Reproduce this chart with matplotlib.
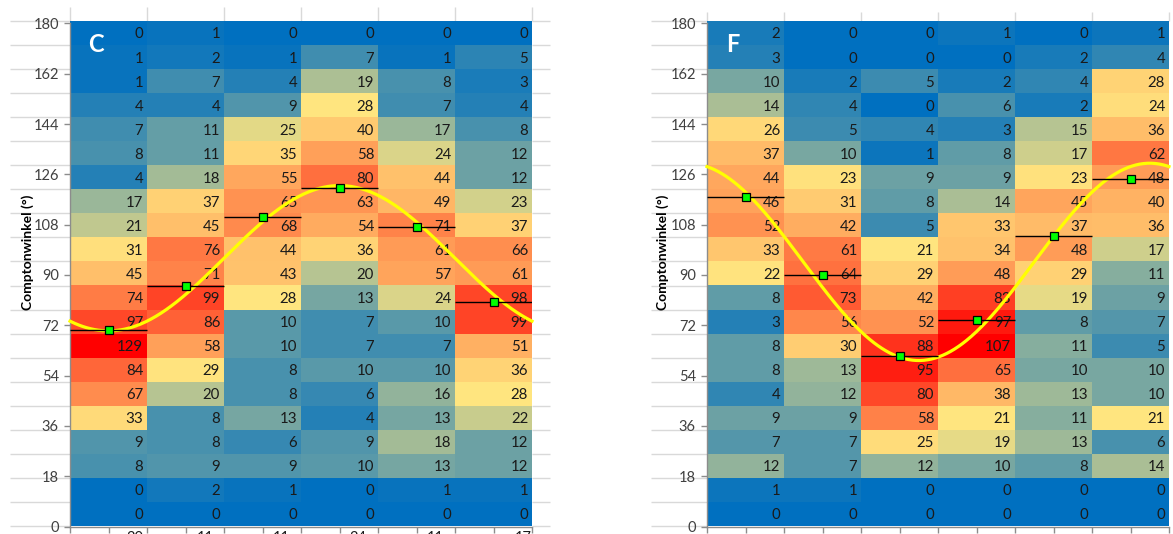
import numpy as np
import matplotlib
matplotlib.use("Agg")
import matplotlib.pyplot as plt
from matplotlib.colors import LinearSegmentedColormap, TwoSlopeNorm

plt.rcParams['font.family'] = ['Lato', 'DejaVu Sans']

# --- data -------------------------------------------------------------
# azimuth bins (column centres, degrees) and half bin width
azimuth = [30, 90, 150, 210, 270, 330]
bin_half = 30
theta_ticks = list(range(0, 181, 18))

# counts per cell, rows from top (180 deg) to bottom (0 deg)
counts_C = [
    [0, 1, 0, 0, 0, 0],
    [1, 2, 1, 7, 1, 5],
    [1, 7, 4, 19, 8, 3],
    [4, 4, 9, 28, 7, 4],
    [7, 11, 25, 40, 17, 8],
    [8, 11, 35, 58, 24, 12],
    [4, 18, 55, 80, 44, 12],
    [17, 37, 65, 63, 49, 23],
    [21, 45, 68, 54, 71, 37],
    [31, 76, 44, 36, 61, 66],
    [45, 71, 43, 20, 57, 61],
    [74, 99, 28, 13, 24, 98],
    [97, 86, 10, 7, 10, 99],
    [129, 58, 10, 7, 7, 51],
    [84, 29, 8, 10, 10, 36],
    [67, 20, 8, 6, 16, 28],
    [33, 8, 13, 4, 13, 22],
    [9, 8, 6, 9, 18, 12],
    [8, 9, 9, 10, 13, 12],
    [0, 2, 1, 0, 1, 1],
    [0, 0, 0, 0, 0, 0],
]
counts_F = [
    [2, 0, 0, 1, 0, 1],
    [3, 0, 0, 0, 2, 4],
    [10, 2, 5, 2, 4, 28],
    [14, 4, 0, 6, 2, 24],
    [26, 5, 4, 3, 15, 36],
    [37, 10, 1, 8, 17, 62],
    [44, 23, 9, 9, 23, 48],
    [46, 31, 8, 14, 45, 40],
    [52, 42, 5, 33, 37, 36],
    [33, 61, 21, 34, 48, 17],
    [22, 64, 29, 48, 29, 11],
    [8, 73, 42, 83, 19, 9],
    [3, 56, 52, 97, 8, 7],
    [8, 30, 88, 107, 11, 5],
    [8, 13, 95, 65, 10, 10],
    [4, 12, 80, 38, 13, 10],
    [9, 9, 58, 21, 11, 21],
    [7, 7, 25, 19, 13, 6],
    [12, 7, 12, 10, 8, 14],
    [1, 1, 0, 0, 0, 0],
    [0, 0, 0, 0, 0, 0],
]

# mean Compton angle per azimuth bin
peak_C = [70.3, 86.1, 110.7, 121.1, 107.3, 80.4]
peak_F = [118.0, 89.9, 60.9, 73.8, 103.9, 124.4]

# cosine fit: offset, amplitude, azimuth of maximum
fit_C = (96.0, 26.0, 210.0)
fit_F = (94.7, 35.3, 345.0)

# colour scale midpoints (yellow)
mid_C = 28
mid_F = 21

# values in the sheet row under panel C (only their tops are visible)
below_C = ["30", "11", "11", "34", "11", "17"]

# --- layout -----------------------------------------------------------
W, H = 1173, 534
fig = plt.figure(figsize=(W / 100, H / 100), dpi=100)
fig.patch.set_facecolor('white')


def px_axes(x0, y0, x1, y1, **kw):
    return fig.add_axes([x0 / W, 1 - y1 / H, (x1 - x0) / W, (y1 - y0) / H], **kw)


cmap = LinearSegmentedColormap.from_list(
    'sheet', ['#0070C0', '#FFE680', '#FF0000'])

grid_col = '#D9D9D9'
row_top, row_bot = 21.0, 526.0
row_h = (row_bot - row_top) / 21

# background sheet grid
bg = px_axes(0, 0, W, H)
bg.set_xlim(0, W)
bg.set_ylim(H, 0)
bg.axis('off')


def sheet_grid(left, grid_spans, top_y):
    ys = row_top + row_h * np.arange(22)
    for a, b in grid_spans:
        bg.hlines(ys, a, b, color=grid_col, lw=1)
    xs = left + 77 * np.arange(7)
    bg.vlines(xs, top_y, row_top, color=grid_col, lw=1)


sheet_grid(70, [(10, 70), (532, 550)], 7)
sheet_grid(707, [(651, 707)], 12)


def panel(left, counts, mid, peaks, fit, letter, ylab_x):
    right = left + 6 * 77
    arr = np.array(counts)
    norm = TwoSlopeNorm(vmin=arr.min(), vcenter=mid, vmax=arr.max())

    hm = px_axes(left, row_top, right, row_bot)
    hm.imshow(arr, cmap=cmap, norm=norm, aspect='auto',
              interpolation='nearest', extent=(0, 6, 21, 0))
    hm.axis('off')
    for i, row in enumerate(counts):
        for j, v in enumerate(row):
            hm.text(j + 1 - 0.05, i + 0.56, str(v), ha='right', va='center',
                    fontsize=10.8, color='#1A1A1A')

    ov = px_axes(left, 23.5, right, 526.5)
    ov.patch.set_visible(False)
    ov.set_xlim(0, 360)
    ov.set_ylim(0, 180)
    ov.set_yticks(theta_ticks)
    ov.set_xticks(np.arange(0, 361, 30))
    ov.set_xticklabels([])
    ov.tick_params(axis='both', direction='out', length=4, width=1,
                   color='#8C8C8C', labelsize=10.5, labelcolor='#404040', pad=4)
    for s in ['top', 'right']:
        ov.spines[s].set_visible(False)
    for s in ['left', 'bottom']:
        ov.spines[s].set_color('#8C8C8C')
        ov.spines[s].set_linewidth(1)

    phi = np.linspace(0, 360, 361)
    off, amp, phase = fit
    ov.plot(phi, off + amp * np.cos(np.radians(phi - phase)),
            color='#FFFF00', lw=2.3, zorder=3, clip_on=False)
    ov.errorbar(azimuth, peaks, xerr=bin_half, fmt='none', ecolor='black',
                elinewidth=1, capsize=0, zorder=4)
    ov.plot(azimuth, peaks, 's', ms=6, mfc='#00FF00', mec='black',
            mew=0.9, zorder=5)

    fig.text((left + 26) / W, 1 - 45 / H, letter, color='white',
             fontsize=17, fontweight='bold', ha='center', va='center')
    fig.text(ylab_x / W, 1 - 252.5 / H, 'Comptonwinkel (°)', rotation=90,
             fontsize=10, fontweight='bold', ha='center', va='center',
             color='black')


panel(70, counts_C, mid_C, peak_C, fit_C, 'C', 27.5)
panel(707, counts_F, mid_F, peak_F, fit_F, 'F', 662.5)

for xc, lab in zip([135, 205, 281, 358, 435, 523], below_C):
    fig.text(xc / W, 1 - 530.5 / H, lab, ha='center', va='top',
             fontsize=10.5, color='#1A1A1A')

fig.savefig('out.png', dpi=100)
